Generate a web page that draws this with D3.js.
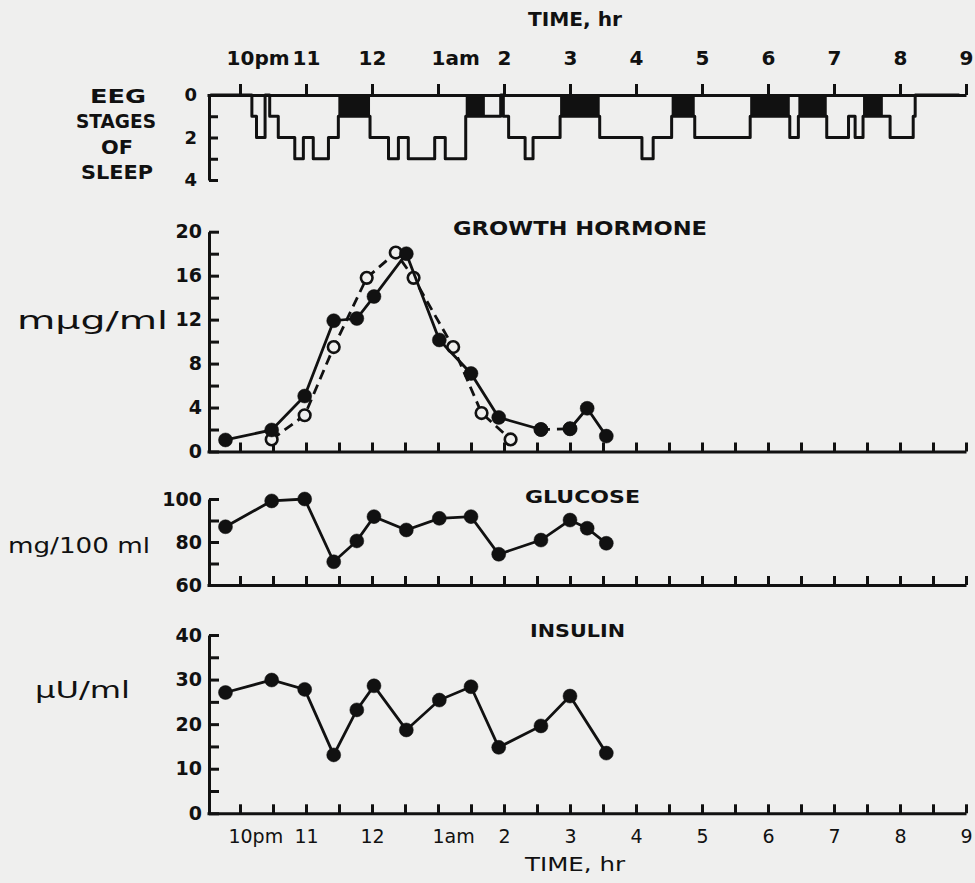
<!DOCTYPE html>
<html>
<head>
<meta charset="utf-8">
<script src="https://cdn.jsdelivr.net/npm/d3@7"></script>
<style>
  html, body { margin: 0; padding: 0; background: #efefee; }
  svg { display: block; }
  text { font-family: "DejaVu Sans", sans-serif; fill: #111; }
</style>
</head>
<body>
<div id="chart"></div>
<script>
// time is counted in hours after 10 pm
const timeTicks = [0, 1, 2, 3, 4, 5, 6, 7, 8, 9, 10, 11];
const timeLabels = ['10pm', '11', '12', '1am', '2', '3', '4', '5', '6', '7', '8', '9'];

// hypnogram: stage held from sleepEdges[i] to sleepEdges[i+1]; 'R' = REM (black block)
const sleepEdges = [-0.45, 0.18, 0.25, 0.38, 0.45, 0.58, 0.83, 0.96, 1.11, 1.34, 1.49,
  1.97, 2.25, 2.40, 2.55, 2.95, 3.11, 3.42, 3.71, 3.95, 3.99, 4.07, 4.32, 4.44, 4.85,
  5.45, 6.09, 6.26, 6.54, 6.89, 7.73, 8.33, 8.46, 8.89, 9.22, 9.32, 9.44, 9.74, 9.85,
  10.20, 10.23, 10.9];
const sleepStages = [0, 1, 2, 0, 1, 2, 3, 2, 3, 2,
  'R', 2, 3, 2, 3, 2, 3, 'R', 1, 0, 1, 2, 3, 2,
  'R', 2, 3, 2, 'R', 2, 'R', 2, 'R', 2, 1, 2, 'R', 1,
  2, 1, 0];

const eegTicks = [0, 1, 2, 3, 4];
const eegLabels = [0, 2, 4];

// growth hormone, mμg/ml
const sampleHours = [-0.22, 0.48, 0.98, 1.42, 1.77, 2.03, 2.52, 3.02, 3.5, 3.92, 4.56, 5.0, 5.26, 5.55];
const ghSolid = [1.05, 1.96, 5.05, 11.9, 12.1, 14.1, 18.0, 10.15, 7.1, 3.1, 2.0, 2.07, 3.93, 1.4];
const ghOpenHours = [0.48, 0.98, 1.42, 1.92, 2.36, 2.63, 3.23, 3.66, 4.10];
const ghOpen = [1.1, 3.3, 9.5, 15.8, 18.1, 15.8, 9.5, 3.5, 1.1];
const ghTicks = [0, 2, 4, 6, 8, 10, 12, 14, 16, 18, 20];

// glucose, mg/100 ml
const glucose = [87.1, 99.1, 100, 70.8, 80.5, 91.8, 85.6, 91.0, 91.8, 74.3, 80.9, 90.2, 86.4, 79.4];
const glucoseTicks = [60, 70, 80, 90, 100];

// insulin, μU/ml
const insulinHours = [-0.22, 0.48, 0.98, 1.42, 1.77, 2.03, 2.52, 3.02, 3.5, 3.92, 4.56, 5.0, 5.55];
const insulin = [27.1, 29.9, 27.8, 13.1, 23.2, 28.6, 18.7, 25.4, 28.4, 14.8, 19.6, 26.3, 13.5];
const insulinTicks = [0, 5, 10, 15, 20, 25, 30, 35, 40];

const halfHours = d3.range(0, 11.01, 0.5);

const width = 975, height = 883;
const ink = '#111';
const paper = '#efefee';
const axisX = 209;

const x = d3.scaleLinear().domain([-0.5, 11]).range([207, 966]);
const yEeg = d3.scaleLinear().domain([0, 4]).range([95, 180]);
const yGh = d3.scaleLinear().domain([0, 20]).range([451.5, 231.7]);
const yGlu = d3.scaleLinear().domain([60, 100]).range([585, 499]);
const yIns = d3.scaleLinear().domain([0, 40]).range([813.3, 635]);

const svg = d3.select('#chart').append('svg')
  .attr('width', width)
  .attr('height', height);

svg.append('rect').attr('width', width).attr('height', height).attr('fill', paper);

function styleAxis(g) {
  g.selectAll('path, line').attr('stroke', ink).attr('stroke-width', 3);
  g.selectAll('text').attr('fill', ink);
}

// number part centred on tick, 'pm' / 'am' running to the right
function shiftSuffix(g) {
  g.selectAll('.tick text').each(function() {
    const t = d3.select(this);
    const label = t.text();
    const num = label.replace(/[a-z]+$/, '');
    if (num !== label) {
      t.text(num);
      const w = this.getComputedTextLength();
      t.text(label).attr('text-anchor', 'start').attr('x', -w / 2);
    }
  });
}

// ---------- EEG panel ----------
const topAxis = svg.append('g')
  .attr('transform', `translate(0,${yEeg(0)})`)
  .call(d3.axisTop(x)
    .tickValues(timeTicks)
    .tickFormat((d, i) => timeLabels[i])
    .tickSizeInner(11).tickSizeOuter(0).tickPadding(19))
  .call(styleAxis);
topAxis.selectAll('.tick text').attr('font-size', 20).attr('font-weight', 'bold');
topAxis.call(shiftSuffix);

svg.append('g')
  .attr('transform', `translate(${axisX},0)`)
  .call(d3.axisLeft(yEeg)
    .tickValues(eegTicks)
    .tickFormat(d => eegLabels.includes(d) ? d : '')
    .tickSizeInner(-9).tickSizeOuter(0).tickPadding(12))
  .call(styleAxis)
  .selectAll('.tick text').attr('font-size', 18).attr('font-weight', 'bold');

const sleepPts = sleepStages.map((s, i) => [sleepEdges[i], s === 'R' ? 1 : s]);
sleepPts.push([sleepEdges[sleepEdges.length - 1], 0]);

svg.append('g').selectAll('rect')
  .data(sleepStages.map((s, i) => ({ s, a: sleepEdges[i], b: sleepEdges[i + 1] })).filter(d => d.s === 'R'))
  .join('rect')
  .attr('x', d => x(d.a))
  .attr('y', yEeg(0))
  .attr('width', d => x(d.b) - x(d.a))
  .attr('height', yEeg(1) - yEeg(0))
  .attr('fill', ink);

svg.append('path')
  .datum(sleepPts)
  .attr('d', d3.line().x(d => x(d[0])).y(d => yEeg(d[1])).curve(d3.curveStepAfter))
  .attr('fill', 'none')
  .attr('stroke', ink)
  .attr('stroke-width', 3)
  .attr('stroke-linejoin', 'round');

// ---------- shared helpers for the three data panels ----------
function panel(y, ticks, labels) {
  svg.append('g')
    .attr('transform', `translate(${axisX},0)`)
    .call(d3.axisLeft(y)
      .tickValues(ticks)
      .tickFormat(d => labels.includes(d) ? d : '')
      .tickSizeInner(-10).tickSizeOuter(0).tickPadding(7))
    .call(styleAxis)
    .selectAll('.tick text').attr('font-size', 19).attr('font-weight', 'bold');

  return svg.append('g')
    .attr('transform', `translate(0,${y.range()[0]})`)
    .call(d3.axisBottom(x)
      .tickValues(halfHours)
      .tickFormat('')
      .tickSizeInner(-9).tickSizeOuter(0))
    .call(styleAxis);
}

function series(xs, ys, y, opts) {
  const pts = xs.map((h, i) => [h, ys[i]]);
  svg.append('path')
    .datum(pts)
    .attr('d', d3.line().x(d => x(d[0])).y(d => y(d[1])))
    .attr('fill', 'none')
    .attr('stroke', ink)
    .attr('stroke-width', 2.8)
    .attr('stroke-dasharray', opts.dash || null);
  svg.append('g').selectAll('circle')
    .data(pts)
    .join('circle')
    .attr('cx', d => x(d[0]))
    .attr('cy', d => y(d[1]))
    .attr('r', opts.open ? 5.8 : 7)
    .attr('fill', opts.open ? paper : ink)
    .attr('stroke', ink)
    .attr('stroke-width', opts.open ? 2.6 : 0.5);
}

// ---------- growth hormone ----------
panel(yGh, ghTicks, [0, 4, 8, 12, 16, 20]);
series(ghOpenHours, ghOpen, yGh, { open: true, dash: '10,6' });
series(sampleHours.slice(0, 11), ghSolid.slice(0, 11), yGh, {});
series(sampleHours.slice(10, 12), ghSolid.slice(10, 12), yGh, { dash: '9,7' });
series(sampleHours.slice(11), ghSolid.slice(11), yGh, {});

// ---------- glucose ----------
panel(yGlu, glucoseTicks, [60, 80, 100]);
series(sampleHours, glucose, yGlu, {});

// ---------- insulin ----------
panel(yIns, insulinTicks, [0, 10, 20, 30, 40]);
series(insulinHours, insulin, yIns, {});

const bottomLabels = svg.append('g')
  .attr('transform', `translate(0,${yIns(0)})`)
  .call(d3.axisBottom(x)
    .tickValues(timeTicks)
    .tickFormat((d, i) => timeLabels[i])
    .tickSize(0).tickPadding(16));
bottomLabels.select('.domain').remove();
bottomLabels.selectAll('.tick text').attr('font-size', 19).attr('fill', ink);
bottomLabels.call(shiftSuffix);

// ---------- titles and unit labels ----------
function label(txt, x0, y0, size, len, weight) {
  svg.append('text')
    .attr('x', x0).attr('y', y0)
    .attr('font-size', size)
    .attr('font-weight', weight || 'bold')
    .attr('textLength', len)
    .attr('lengthAdjust', 'spacingAndGlyphs')
    .text(txt);
}

label('TIME, hr', 528, 26, 19, 94);
label('GROWTH HORMONE', 453, 235, 19, 254);
label('GLUCOSE', 525, 503, 18, 115);
label('INSULIN', 530, 637, 18, 95);
label('TIME, hr', 525, 871, 19, 100, 'normal');

label('EEG', 90, 103, 20, 56);
label('STAGES', 76, 128, 20, 80);
label('OF', 101, 154, 20, 32);
label('SLEEP', 81, 179, 20, 72);

label('m\u03bcg/ml', 17, 329, 25, 151, 'normal');
label('mg/100 ml', 8, 553, 21, 142, 'normal');
label('\u03bcU/ml', 35, 698, 23, 95, 'normal');
</script>
</body>
</html>
